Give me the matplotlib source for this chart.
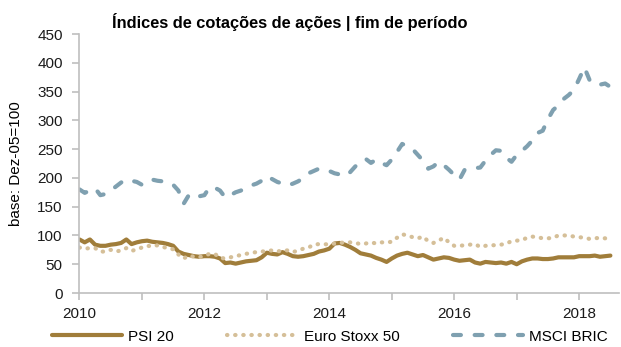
import numpy as np
import matplotlib
matplotlib.use("Agg")
import matplotlib.pyplot as plt

plt.rcParams['font.family'] = ['Liberation Sans', 'DejaVu Sans']

# monthly end-of-period values, Jan 2010 - Jul 2018 (base Dec-05 = 100)
psi20 = [93, 88, 93, 84, 82, 82, 84, 85, 87, 93, 85, 88,
         90, 91, 89, 88, 87, 85, 82, 72, 68, 66, 64, 63,
         64, 64, 63, 60, 52, 53, 51, 53, 55, 56, 57, 62,
         70, 68, 67, 71, 68, 64, 63, 64, 66, 68, 72, 74,
         77, 86, 87, 84, 80, 75, 69, 67, 65, 61, 58, 54,
         60, 65, 68, 70, 67, 64, 66, 62, 58, 60, 62, 61,
         58, 56, 57, 58, 53, 51, 54, 53, 52, 53, 51, 54,
         50, 55, 58, 60, 60, 59, 59, 60, 62, 62, 62, 62,
         64, 64, 64, 65, 63, 64, 65]
eurostoxx50 = [79, 77, 78, 78, 72, 72, 75, 72, 74, 78, 73, 76,
               79, 82, 81, 83, 80, 78, 76, 67, 60, 65, 63, 62,
               65, 68, 68, 61, 60, 62, 64, 66, 68, 70, 71, 72,
               73, 74, 72, 74, 74, 71, 74, 77, 79, 84, 85, 85,
               84, 86, 87, 88, 88, 87, 85, 86, 88, 86, 88, 88,
               89, 96, 102, 100, 97, 95, 98, 90, 87, 91, 96, 88,
               82, 82, 83, 84, 85, 80, 82, 83, 83, 84, 86, 90,
               91, 92, 96, 98, 97, 95, 95, 96, 100, 100, 100, 98,
               97, 96, 94, 95, 96, 95, 94]
msci_bric = [180, 174, 178, 182, 170, 172, 178, 185, 192, 197, 195, 193,
             188, 190, 197, 195, 194, 193, 188, 178, 155, 170, 173, 168,
             170, 184, 183, 178, 166, 170, 175, 178, 182, 187, 190, 195,
             203, 198, 193, 190, 187, 190, 194, 200, 208, 212, 216, 214,
             212, 208, 206, 203, 210, 220, 228, 233, 226, 232, 226, 222,
             232, 245, 259, 255, 250, 240, 230, 216, 220, 228, 222, 214,
             205, 197, 214, 216, 217, 218, 230, 240, 248, 247, 235, 228,
             240, 247, 255, 265, 278, 282, 302, 318, 326, 337, 344, 353,
             372, 392, 370, 362, 362, 364, 358]
years = [2010, 2012, 2014, 2016, 2018]

t = 2010 + np.arange(len(psi20)) / 12

fig = plt.figure(figsize=(6.21, 3.47), dpi=100)
ax = fig.add_axes([0.128, 0.1556, 0.869, 0.7464])

ax.plot(t, psi20, color='#A07D3A', lw=3, solid_capstyle='round', label='PSI 20')
ax.plot(t, eurostoxx50, color='#D5BF98', lw=3, linestyle=(0, (0.1, 1.85)),
        dash_capstyle='round', label='Euro Stoxx 50')
ax.plot(t, msci_bric, color='#7FA0B0', lw=3, linestyle=(0, (1.9, 3.3)),
        dash_capstyle='round', label='MSCI BRIC')

ax.set_xlim(2010, 2018.64)
ax.set_ylim(0, 450)
ax.set_yticks(range(0, 451, 50))
ax.set_xticks(np.arange(2010, 2019, 1), minor=True)
ax.set_xticks(years)
ax.set_xticklabels([str(y) for y in years])

for s in ['top', 'right']:
    ax.spines[s].set_visible(False)
for s in ['left', 'bottom']:
    ax.spines[s].set_color('#BFBFBF')
    ax.spines[s].set_linewidth(1.2)
ax.tick_params(axis='both', which='both', color='#BFBFBF', width=1.2,
               length=5, labelsize=11, labelcolor='#1a1a1a')
ax.tick_params(axis='x', pad=5)
ax.tick_params(axis='y', pad=7)

ax.set_ylabel('base: Dez-05=100', fontsize=11)
ax.yaxis.set_label_coords(-0.105, 0.5)
fig.text(0.467, 0.919, 'Índices de cotações de ações | fim de período',
         ha='center', va='baseline', fontsize=11.8, fontweight='bold')

fig.legend(loc='center', bbox_to_anchor=(0.531, 0.03), ncol=3,
           frameon=False, fontsize=11, handlelength=4.6, columnspacing=3.5,
           handletextpad=0.4)

fig.savefig('out.png', dpi=100)
